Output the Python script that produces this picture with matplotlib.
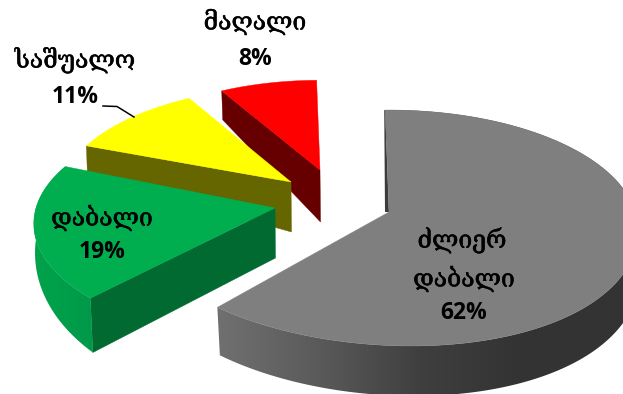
import numpy as np
import matplotlib
matplotlib.use("Agg")
import matplotlib.pyplot as plt
import matplotlib.patheffects as pe
from matplotlib.colors import LinearSegmentedColormap
from matplotlib.patches import Polygon

names = ["ძლიერ\nდაბალი", "დაბალი", "საშუალო", "მაღალი"]
values = [62, 19, 11, 8]
pct_labels = ["62%", "19%", "11%", "8%"]
top_colors = ["#7f7f7f", "#00ae50", "#ffff00", "#ff0000"]
front_colors = ["#444444", "#006a30", "#666600", "#660000"]
wall_ramps = [["#707070", "#5a5a5a", "#3f3f3f", "#333333", "#333333"], ["#00a34b", "#00994a"], None, None]

W, H = 623, 394
fig = plt.figure(figsize=(W / 100, H / 100), dpi=100)
ax = fig.add_axes([0, 0, 1, 1])
ax.set_xlim(0, W)
ax.set_ylim(H, 0)
ax.axis("off")

# layout for each exploded slice: apex, radius, vertical scale, depths, turn, shear
apex = [(389, 212), (275, 208), (291, 182), (320, 170)]
radius = [246, 239, 229, 221]
yscale = [1.0, 0.98, 0.93, 0.88]
turn = [0, 2, 0, 0]
shear = [22, 0, 0, 0]
apex_depth = [48, 50, 50, 52]
rim_v = [-1.0, 0.0, 1.0]
rim_depth = [[30, 42, 50], [25, 25, 66], [29, 29, 50], [29, 29, 52]]
BEND = -0.1356
YS = 115.8


def rim(i, phi):
    """phi in degrees clockwise from the top"""
    p = np.radians(phi)
    v = -np.cos(p)
    den = 1 + BEND * v
    x = apex[i][0] + radius[i] * np.sin(p) / den + shear[i] * np.clip(v, 0, 1) ** 2
    y = apex[i][1] + yscale[i] * YS * v / den
    d = np.interp(v, rim_v, rim_depth[i])
    return x, y, d, 1 + 2 * np.clip(v, 0, 1)


angles = np.cumsum([0] + values) * 3.6 - 1.0
for i in [3, 2, 1, 0]:
    z = 1 + 4 * (3 - i)
    a0, a1 = angles[i] + turn[i], angles[i + 1] + turn[i]
    phis = np.linspace(a0, a1, 240)
    x, y, d, off = rim(i, phis)
    ax0, ay0 = apex[i]
    da = apex_depth[i]
    if i == 0:
        ax.fill([x[0] - 1, ax0 - 4, ax0, x[0]], [y[0], ay0, ay0, y[0]], color="#3c3c3c", lw=0, zorder=z)
    else:
        # cut face on the leading end of the slice
        ax.fill([ax0, x[0], x[0] + off[0], ax0 + 0.5], [ay0, y[0], y[0] + d[0], ay0 + da],
                color=front_colors[i], lw=0.3, ec=front_colors[i], zorder=z)
    # curved outer wall with a horizontal colour ramp
    if wall_ramps[i] is not None:
        px = np.r_[x, (x + off)[::-1]]
        py = np.r_[y, (y + d)[::-1]]
        poly = Polygon(np.c_[px, py], closed=True, transform=ax.transData, fc="none", ec="none")
        ax.add_patch(poly)
        cmap = LinearSegmentedColormap.from_list("w", wall_ramps[i])
        x0 = px.min()
        x1 = 623 if i == 0 else px.max()
        im = ax.imshow(np.linspace(0, 1, 256)[None, :], cmap=cmap, aspect="auto",
                       extent=[x0, x1, H, 0], zorder=z + 1)
        im.set_clip_path(poly)
        ax.set_xlim(0, W)
        ax.set_ylim(H, 0)
    ax.fill(np.r_[ax0, x], np.r_[ay0, y], color=top_colors[i], lw=0.3, ec=top_colors[i], zorder=z + 2)

# leader line of the 11% label
ax.plot([103, 117, 134], [106, 106.5, 117], color="black", lw=1.1, zorder=40)

stroke = [pe.withStroke(linewidth=0.4, foreground="black")]
geo = dict(family="DejaVu Serif", fontsize=17.8, ha="center", va="center", color="black", zorder=50, path_effects=stroke)
pct = dict(family="Open Sans", fontsize=16.5, fontweight="bold", ha="center", va="center", color="black", zorder=50)

ax.text(462, 240, "ძლიერ", **geo)
ax.text(464, 279, "დაბალი", **geo)
ax.text(464, 313, pct_labels[0], **pct)
ax.text(102, 218, names[1], **geo)
ax.text(102, 252, pct_labels[1], **pct)
ax.text(75, 60, names[2], **geo)
ax.text(75, 97, pct_labels[2], **pct)
ax.text(255, 22, names[3], **geo)
ax.text(255, 59, pct_labels[3], **pct)

fig.savefig("out.png", dpi=100)
